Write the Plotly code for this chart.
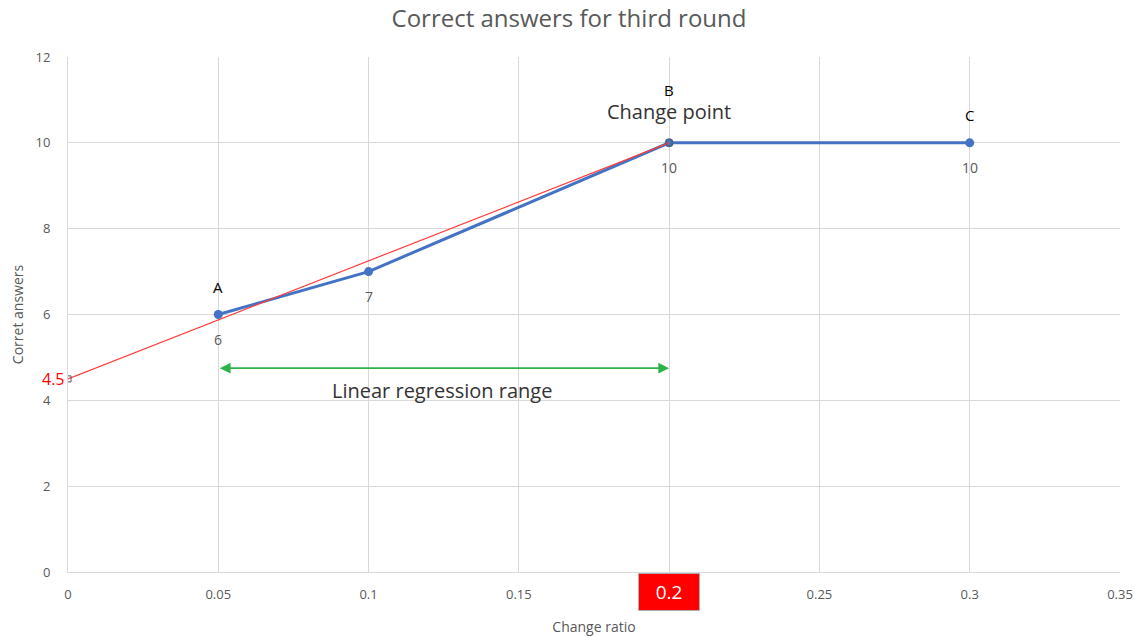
import plotly.graph_objects as go

# Measured points
change_ratio = [0.05, 0.1, 0.2, 0.3]
correct = [6, 7, 10, 10]
point_names = ["A", "", "B", "C"]

# Linear regression over A..B
reg_x = [0.0, 0.2]
intercept = 4.5
slope = 27.5
reg_y = [intercept + slope * x for x in reg_x]

# the 0.2 tick is drawn as a highlighted box instead of a plain label
x_ticks = [0, 0.05, 0.1, 0.15, 0.2, 0.25, 0.3, 0.35]
x_tick_text = ["0", "0.05", "0.1", "0.15", "", "0.25", "0.3", "0.35"]
highlight_tick = 0.2
y_ticks = [0, 2, 4, 6, 8, 10, 12]

range_start, range_end, range_level = 0.05, 0.2, 4.75

FONT = "Open Sans"
GRAY = "#595959"

fig = go.Figure()

fig.add_trace(go.Scatter(
    x=change_ratio, y=correct, mode="lines+markers",
    line=dict(color="#4472C4", width=3),
    marker=dict(size=9, color="#4472C4"),
    hoverinfo="x+y", showlegend=False,
))

fig.add_trace(go.Scatter(
    x=reg_x, y=reg_y, mode="lines+markers",
    line=dict(color="#FF3B3B", width=1.2),
    marker=dict(size=6, symbol="square-open", color="#595959", line=dict(width=1)),
    showlegend=False,
))

annotations = []
# value labels below points
for x, y in zip(change_ratio, correct):
    annotations.append(dict(x=x, y=y, text=str(y), showarrow=False,
                            yshift=-25, font=dict(size=14, color=GRAY, family=FONT)))
# point names above points
for x, y, n in zip(change_ratio, correct, point_names):
    if n:
        yshift = 53 if n == "B" else 28
        annotations.append(dict(x=x, y=y, text=n, showarrow=False,
                                yshift=yshift, font=dict(size=15, color="#000000", family=FONT)))

annotations.append(dict(x=0.2, y=10, text="Change point", showarrow=False, yshift=31,
                        font=dict(size=20, color="#333333", family=FONT)))

# double-headed arrow marking the regression range
annotations.append(dict(x=range_end, y=range_level, ax=range_start, ay=range_level,
                        xref="x", yref="y", axref="x", ayref="y",
                        text="", showarrow=True, arrowhead=2, arrowside="end+start",
                        arrowsize=1.2, arrowwidth=1.8, arrowcolor="#2DB34A"))
annotations.append(dict(x=0.1245, y=range_level, text="Linear regression range", showarrow=False,
                        yshift=-22, font=dict(size=20, color="#333333", family=FONT)))

# intercept label
annotations.append(dict(x=0, y=intercept, text="4.5", showarrow=False, xanchor="right",
                        xshift=-1, font=dict(size=16, color="#FF0000", family=FONT)))

# highlighted x tick
annotations.append(dict(x=highlight_tick, y=0, yref="y", text=str(highlight_tick),
                        showarrow=False, yanchor="top",
                        yshift=-1, bgcolor="#FF0000", bordercolor="#B0B0B0", borderwidth=1,
                        width=58, height=34,
                        font=dict(size=19, color="#FFFFFF", family=FONT)))

fig.update_layout(
    width=1138, height=636,
    margin=dict(l=68, r=18, t=57, b=64),
    paper_bgcolor="white", plot_bgcolor="white",
    title=dict(text="Correct answers for third round", x=0.5, xanchor="center",
               y=0.970, yanchor="middle",
               font=dict(size=24, color=GRAY, family=FONT)),
    font=dict(family=FONT, color=GRAY),
    annotations=annotations,
    xaxis=dict(range=[0, 0.35], tickvals=x_ticks, ticktext=x_tick_text,
               showgrid=True, gridcolor="#D9D9D9", gridwidth=1, automargin=False,
               zeroline=False, showline=True, linecolor="#D9D9D9", mirror=False,
               ticks="", tickfont=dict(size=13, color=GRAY), ticklabelstandoff=10,
               title=dict(text="Change ratio", font=dict(size=14, color=GRAY), standoff=20)),
    yaxis=dict(range=[0, 12], tickvals=y_ticks,
               showgrid=True, gridcolor="#D9D9D9", gridwidth=1,
               zeroline=False, showline=True, linecolor="#D9D9D9",
               ticks="", tickfont=dict(size=13, color=GRAY), ticklabelstandoff=14,
               title=dict(text="Corret answers", font=dict(size=14, color=GRAY), standoff=8)),
)

fig.write_html("out.html")
